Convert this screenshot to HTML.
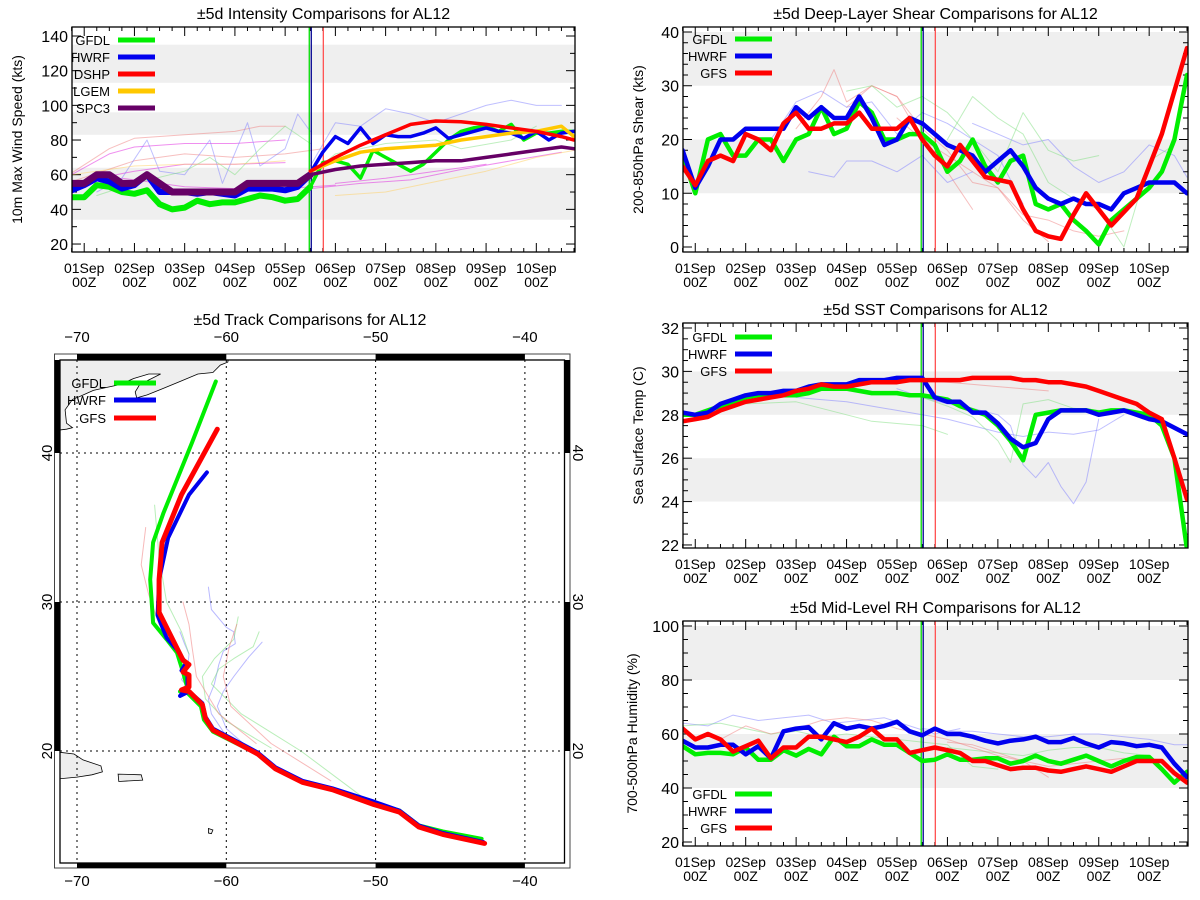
<!DOCTYPE html>
<html><head><meta charset="utf-8"><title>AL12 ±5d Comparisons</title>
<style>
html,body{margin:0;padding:0;background:#fff;}
svg{display:block;font-family:"Liberation Sans",sans-serif;}
</style></head>
<body>
<svg id="fig" width="1200" height="900" viewBox="0 0 1200 900" xmlns="http://www.w3.org/2000/svg">
<defs>
<clipPath id="clipI"><rect x="72" y="27" width="503" height="225"/></clipPath>
<clipPath id="clipS"><rect x="683" y="27" width="505" height="225"/></clipPath>
<clipPath id="clipT"><rect x="683" y="323" width="505" height="225"/></clipPath>
<clipPath id="clipR"><rect x="683" y="621" width="505" height="225"/></clipPath>
<clipPath id="clipM"><rect x="60" y="360" width="504.5" height="503"/></clipPath>
</defs>
<rect width="1200" height="900" fill="#fff"/>
</svg>
<script>
// ---------- DATA ----------
const dayLabels = ["01Sep","02Sep","03Sep","04Sep","05Sep","06Sep","07Sep","08Sep","09Sep","10Sep"];
const hourLabel = "00Z";
const initTimes = [4.48, 4.52, 4.76]; // green, blue, red verticals (days)

// Intensity (kt)
const intTicks = [20,40,60,80,100,120,140];
const intBands = [[34,64],[83,96],[113,135]];
const gfdlIntPast = [47,47,54,53,50,49,51,43,40,41,45,43,44,44,46,48,47,45,46,53];
const hwrfIntPast = [51,54,58,56,52,54,60,50,50,50,49,50,49,48,52,52,52,51,53,60];
const spc3IntPast = [55,55,60,60,55,55,60,55,50,50,50,50,50,50,55,55,55,55,55,60];
const gfdlIntFcst = [53,67,68,66,58,74,70,66,62,66,73,80,85,87,88,85,89,80,84,84,85,85];
const hwrfIntFcst = [61,73,82,78,87,78,83,82,82,84,87,81,83,85,87,85,84,81,85,80,84,85];
const fcst12Times = [4.5,5.0,5.5,6.0,6.5,7.0,7.5,8.0,8.5,9.0,9.5,9.75];
const dshpIntFcst = [62,70,77,83,89,91,90.5,89,87,85,82,80];
const lgemIntFcst = [62,68,73,75,76,77,80,82,84,85,88,82];
const spc3IntFcst = [60,63,65,66,67,68,68,70,72,74,76,75];
const intThin = [
 {c:"#e020e0",t:[-0.25,0.5,1,2,3,4],v:[60,72,76,78,78,80]},
 {c:"#e020e0",t:[-0.25,1,2,3,4],v:[55,62,66,66,67]},
 {c:"#e020e0",t:[0.75,2,3,4,5],v:[58,53,52,52,54]},
 {c:"#e020e0",t:[4.5,5.5,6.5,7.5,8.5,9.5],v:[52,55,57,63,68,73]},
 {c:"#e020e0",t:[5,6,7,8],v:[55,58,62,66]},
 {c:"#f08080",t:[-0.25,0.5,1,2,3,3.5,4],v:[61,75,81,83,85,88,88]},
 {c:"#f08080",t:[-0.25,1,2,3,4,4.75],v:[56,68,72,70,72,75]},
 {c:"#8080ff",t:[0.25,0.75,1.25,1.5,2,2.5,2.75,3.25,3.5,4,4.25,4.5],v:[50,58,80,62,60,80,55,90,65,75,95,85]},
 {c:"#8080ff",t:[4.5,5,5.5,6,6.5,7,7.5,8,8.5,9,9.5],v:[65,90,88,98,95,90,95,100,103,100,100]},
 {c:"#80e080",t:[0.25,1,2,2.5,3,3.5,4,4.5],v:[48,55,62,70,60,75,88,78]},
 {c:"#80e080",t:[4.5,5,6,7,7.5,8.5,9],v:[60,72,78,80,75,80,88]},
 {c:"#ffd060",t:[-0.25,1,2,3,4],v:[60,65,66,66,68]},
 {c:"#ffd060",t:[5,6,7,8,9,9.75],v:[48,50,56,62,70,74]}
];

// Shear (kt), 6-hourly from -0.25 to 9.75
const shrTicks = [0,10,20,30,40];
const shrBands = [[10,20],[30,40]];
const gfdlShear = [17,10,20,21,17,17,20,20,16,20,21,26,21,22,27,25,20,20,21,21,19,14,16,20,15,12,16,17,8,7,8,5,3,0.5,5,7,9,11,14,20,32];
const hwrfShear = [18,11,15,20,20,22,22,22,22,26,24,26,24,24,28,24,19,20,24,23,21,19,18,17,14,16,18,15,11,9,8,9,8,8,7,10,11,12,12,12,10];
const gfsShear  = [15,11.5,16,17,16,21,20,18,23,25,22,22,23,23,25,22,22,22,24,20,17,15,19,16,13,12.5,12,7,3,2,1.5,6,10,7,4,6.5,9,15,21,29,37];
const shrThin = [
 {c:"#f08080",t:[2,2.5,2.75,3,3.5,4,4.5,5,5.5],v:[22,28,33,27,30,28,20,14,7]},
 {c:"#f08080",t:[3,3.5,4,4.5,5,5.5,6,6.5,7],v:[26,30,28,22,18,12,11,5,1]},
 {c:"#f08080",t:[4,4.5,5,5.5,6,6.5,7,7.5,8,8.5],v:[24,20,17,14,11,6,5,3,2,3]},
 {c:"#8080ff",t:[1.5,2,2.5,3,3.5,4,4.5,5,5.5,6,6.5],v:[20,27,29,26,27,21,25,23,20,17,8]},
 {c:"#8080ff",t:[2.25,2.75,3,3.5,4,4.5,5,5.5],v:[14,13,16,16,14,17,12,14]},
 {c:"#8080ff",t:[5.5,6,6.5,7,7.5,8,8.5,9,9.5,9.75],v:[23,21,19,20,15,12,14,19,17,13]},
 {c:"#80e080",t:[3,3.5,4,4.5,5,5.5,6,6.5,7,7.5,8],v:[29,30,26,28,25,20,14,25,18,16,17]},
 {c:"#80e080",t:[5,5.5,6,6.5,7,7.5,8,8.5,9,9.5],v:[20,28,24,21,12,9,7,0,16,19]}
];

// SST (C)
const sstTicks = [22,24,26,28,30,32];
const sstBands = [[24,26],[28,30]];
const gfdlSst = [28.0,28.0,28.2,28.4,28.6,28.8,28.9,28.9,28.9,28.9,29.0,29.2,29.2,29.2,29.1,29.0,29.0,29.0,28.9,28.9,28.8,28.7,28.4,28.2,28.0,27.5,26.8,25.9,28.0,28.1,28.2,28.2,28.2,28.1,28.2,28.2,28.1,28.0,27.5,26.0,21.8];
const hwrfSst = [28.1,28.0,28.1,28.5,28.7,28.9,29.0,29.0,29.1,29.1,29.3,29.4,29.4,29.4,29.6,29.6,29.6,29.7,29.7,29.7,28.8,28.6,28.6,28.1,28.1,27.6,26.9,26.5,26.7,27.8,28.2,28.2,28.2,28.0,28.1,28.2,28.0,27.8,27.7,27.4,27.1];
const gfsSst  = [27.7,27.8,27.9,28.2,28.4,28.6,28.7,28.8,28.9,29.1,29.2,29.4,29.3,29.3,29.4,29.5,29.5,29.5,29.6,29.6,29.6,29.6,29.6,29.7,29.7,29.7,29.7,29.6,29.6,29.5,29.5,29.4,29.3,29.1,28.9,28.7,28.5,28.1,27.8,26.0,24.1];
const sstThin = [
 {c:"#8080ff",t:[2,2.5,3,3.5,4,4.5,5,5.5,6,6.5,7,7.5,8,8.5],v:[28.8,28.7,28.6,28.4,28.2,28.0,27.8,27.5,27.2,27.0,27.2,27.1,27.3,28.0]},
 {c:"#8080ff",t:[4,4.5,5,5.5,6,6.25,6.5,6.75,7,7.25,7.5,7.75,8],v:[29.2,28.8,28.5,28.3,28.0,27.5,25.7,25.1,25.8,24.7,23.9,24.9,27.8]},
 {c:"#80e080",t:[1,2,2.5,3,3.5,4,4.5,5],v:[28.5,28.6,28.3,28.0,27.7,27.6,27.5,27.1]},
 {c:"#80e080",t:[4.5,5,5.5,6,6.25,6.5,7,7.5,8],v:[28.8,28.4,27.9,26.8,25.8,28.5,28.7,28.3,28.2]},
 {c:"#f08080",t:[4.5,5,5.5,6,6.5,7],v:[29.6,29.5,29.4,29.3,29.2,29.1]}
];

// Mid-level RH (%)
const rhTicks = [20,40,60,80,100];
const rhBands = [[40,60],[80,100]];
const gfdlRh = [55.5,52.5,53,53,52.5,55,50.5,50.5,54,52,54.5,52.5,59,55.5,55.5,58,56,56,53,50,50.5,52.5,50.5,50.5,51,51,49,50,52,50,49,50.5,52,50,48,50,51.5,51.5,47,42,46];
const hwrfRh = [57.5,55,55,56,56,52.5,55.5,51,61,62,62.5,58,64,62,63,62,63,64.5,61,59.5,62,60,60,59,57.5,56.5,57.5,58,59,57,57,58.5,56.5,55,57,56.5,55.5,56,55,49,44];
const gfsRh  = [62,58,60,58,53.5,55.5,57.5,51,55,55,59,59,58,57,59,62,58,58,53,54,55,54,53,50,50,48.5,47,47.5,47.5,46.5,46,47,48,47,46,48,50,50,50,45.5,42];
const rhThin = [
 {c:"#8080ff",t:[-0.25,0.25,0.75,1.25,1.75,2.25,2.75,3.25,3.75,4.25,4.75,5.25],v:[64,63,67,65,66,67,64,65,66,63,60,62]},
 {c:"#8080ff",t:[4.5,5,5.5,6,6.5,7,7.5,8,8.5,9,9.5,10],v:[62,61,61,60,59,59,60,60,59,58,56,56]},
 {c:"#80e080",t:[-0.25,0.5,1,1.5,2,2.5,3,3.5,4,4.5,5,5.5,6],v:[63,64,62,60,61,59,60,59,58,57,56,48,47]},
 {c:"#80e080",t:[5,5.5,6,6.5,7,7.5,8,8.5,9],v:[55,54,53,52,54,55,55,53,52]},
 {c:"#f08080",t:[0.5,1,1.5,2,2.5,3,3.5,4,4.5,5,5.5,6,6.5,7],v:[58,63,60,62,65,66,65,62,60,58,55,52,50,44]},
 {c:"#f08080",t:[5,5.5,6,6.5,7,7.5,8,8.5,9],v:[57,56,53,50,48,49,50,51,50]}
];

// Track (lon, lat)
const gfsTrackLon  = [-42.7,-45.5,-47.1,-48.4,-50.1,-52.9,-54.9,-56.7,-57.9,-60.9,-61.4,-61.6,-62.5,-63.0,-62.5,-62.5,-62.9,-62.5,-62.9,-63.2,-64.5,-64.5,-64.3,-63.0,-60.6];
const gfsTrackLat  = [13.8,14.4,14.9,15.9,16.4,17.4,17.9,18.8,19.8,21.4,22.2,23.1,24.0,24.1,24.3,25.1,25.3,25.8,26.1,26.7,29.3,31.5,34.0,37.2,41.6];
const gfdlTrackLon = [-42.9,-45.5,-47.1,-48.4,-50.1,-52.9,-54.9,-56.7,-57.9,-60.9,-61.5,-61.7,-62.6,-63.1,-62.6,-62.9,-63.3,-64.0,-64.9,-65.1,-64.9,-64.2,-62.3,-60.7];
const gfdlTrackLat = [14.1,14.6,15.0,16.0,16.5,17.4,17.9,18.8,19.8,21.3,22.1,23.0,23.9,24.0,24.2,25.3,26.6,27.5,28.6,31.5,34.0,36.0,40.7,44.8];
const hwrfTrackLon = [-42.8,-45.5,-47.1,-48.4,-50.1,-52.9,-54.9,-56.7,-57.9,-60.9,-61.4,-61.6,-62.5,-63.1,-62.6,-62.6,-63.0,-62.7,-63.0,-63.3,-64.0,-64.6,-64.5,-63.9,-62.5,-61.3];
const hwrfTrackLat = [13.9,14.5,15.0,16.0,16.6,17.5,18.0,18.9,19.9,21.5,22.3,23.2,24.0,23.7,24.3,25.1,25.4,25.9,26.3,26.8,27.6,29.1,31.5,34.3,37.2,38.7];
const trackThin = [
 {c:"#8080ff",lon:[-61.2,-61.0,-60.0,-59.5,-59.4,-60.2,-60.5,-60.8,-61.2,-61.0,-60.0],lat:[31.0,29.5,28.3,28.0,27.2,26.7,25.8,24.5,23.5,22.5,21.0]},
 {c:"#8080ff",lon:[-57.6,-58.5,-59.5,-60.2,-60.6,-60.0,-58.5],lat:[27.3,26.3,25.0,24.0,23.0,21.5,20.2]},
 {c:"#8080ff",lon:[-63.1,-62.8,-62.5,-62.6,-63.0,-62.6],lat:[28.0,27.2,26.5,25.5,24.8,24.3]},
 {c:"#80e080",lon:[-57.8,-58.2,-59.5,-60.5,-61.0,-59.0,-55.0,-51.0],lat:[28.0,27.0,26.2,25.5,24.5,22.5,20.0,17.0]},
 {c:"#80e080",lon:[-64.8,-64.5,-64.0,-63.0,-62.5],lat:[36.5,33.0,30.0,28.0,26.5]},
 {c:"#80e080",lon:[-59.2,-59.5,-60.8,-61.6,-61.4,-60.0,-57.0],lat:[29.0,27.5,26.2,25.0,23.5,22.0,20.2]},
 {c:"#f08080",lon:[-59.3,-59.8,-60.2,-59.7,-57.0,-53.0],lat:[28.5,27.0,25.0,23.0,20.5,18.0]},
 {c:"#f08080",lon:[-65.4,-65.7,-65.2,-64.5,-63.5],lat:[35.0,32.5,30.5,28.5,27.0]},
 {c:"#f08080",lon:[-62.9,-62.5,-62.3,-62.0,-60.5,-58.0],lat:[30.0,28.5,27.0,25.0,22.5,20.5]}
];
const lonTicks = [-70,-60,-50,-40];
const latTicks = [20,30,40];

// ---------- DRAWING ----------
const NS = "http://www.w3.org/2000/svg";
const svg = document.getElementById("fig");
function mk(tag, attrs, parent){
  const e = document.createElementNS(NS, tag);
  for (const k in attrs) e.setAttribute(k, attrs[k]);
  (parent||svg).appendChild(e);
  return e;
}
const X0 = -0.243, X1 = 9.77;
function sx(b,d){ return b.l + (d - X0)/(X1 - X0)*(b.r - b.l); }
function sy(b,v){ return b.t + (b.ymax - v)/(b.ymax - b.ymin)*(b.b - b.t); }
function steps(start, n){ const a=[]; for(let i=0;i<n;i++) a.push(start + i*0.25); return a; }

function line(g, b, ts, vs, color, w, op, name){
  let d = "";
  for (let i=0;i<ts.length;i++) d += (i?"L":"M") + sx(b,ts[i]).toFixed(1) + "," + sy(b,vs[i]).toFixed(1);
  const p = mk("path", {d:d, fill:"none", stroke:color, "stroke-width":w, "stroke-linejoin":"round", "stroke-linecap":"round", opacity:op}, g);
  
  
  return p;
}

function panel(b, title, ytitle, ticks, bands, minorStep, clipId, pname){
  const g = mk("g", {});
  
  
  bands.forEach(bd=>{
    const r = mk("rect", {x:b.l, y:sy(b,bd[1]), width:b.r-b.l, height:sy(b,bd[0])-sy(b,bd[1]), fill:"#efefef"}, g);
    
    
  });
  const tt = mk("text", {x:(b.l+b.r)/2, y:b.t-8, "text-anchor":"middle", "font-size":"16"}, g);
  tt.textContent = title;
  
  
  const yt = mk("text", {x:0, y:0, "text-anchor":"middle", "font-size":"14", transform:"translate("+(b.l-b.yto)+","+((b.t+b.b)/2)+") rotate(-90)"}, g);
  yt.textContent = ytitle;
  
  
  for (let v=ticks[0]; v<=ticks[ticks.length-1]+1e-6; v+=minorStep){
    const y = sy(b,v);
    const major = ticks.some(t=>Math.abs(t-v)<1e-6);
    const L = major?9:5;
    mk("line",{x1:b.l,x2:b.l+L,y1:y,y2:y,stroke:"#000","stroke-width":1},g);
    mk("line",{x1:b.r,x2:b.r-L,y1:y,y2:y,stroke:"#000","stroke-width":1},g);
  }
  ticks.forEach(v=>{
    const t = mk("text",{x:b.l-4,y:sy(b,v)+6,"text-anchor":"end","font-size":"16"},g);
    t.textContent = v;
    
    
  });
  for (let d=-0.25; d<=9.76; d+=0.25){
    const x = sx(b,d);
    const major = Math.abs(d-Math.round(d))<1e-6;
    const L = major?9:4;
    mk("line",{x1:x,x2:x,y1:b.b,y2:b.b-L,stroke:"#000","stroke-width":1},g);
    mk("line",{x1:x,x2:x,y1:b.t,y2:b.t+L,stroke:"#000","stroke-width":1},g);
  }
  dayLabels.forEach((lab,i)=>{
    const x = sx(b,i);
    const t1 = mk("text",{x:x,y:b.b+21,"text-anchor":"middle","font-size":"14"},g);
    t1.textContent = lab;
    
    
    const t2 = mk("text",{x:x,y:b.b+35,"text-anchor":"middle","font-size":"14"},g);
    t2.textContent = hourLabel;
    
    
  });
  const cg = mk("g",{"clip-path":"url(#"+clipId+")"},g);
  
  
  return {g:g, cg:cg};
}
function verticals(b, cg){
  const cols = ["#00dd00","#000090","#ff5050"];
  initTimes.forEach((t,i)=>{
    const l = mk("line",{x1:sx(b,t),x2:sx(b,t),y1:b.t,y2:b.b,stroke:cols[i],"stroke-width":1.3},cg);
    
    
  });
}
function frame(b, g){
  const r = mk("rect",{x:b.l,y:b.t,width:b.r-b.l,height:b.b-b.t,fill:"none",stroke:"#000","stroke-width":1.3},g);
  
  
}
function legend(g, x, y0, dy, items){
  items.forEach((it,i)=>{
    const y = y0 + i*dy;
    const t = mk("text",{x:x+32,y:y+5,"text-anchor":"end","font-size":"13"},g);
    t.textContent = it[0];
    
    
    const l = mk("line",{x1:x+40,x2:x+77,y1:y,y2:y,stroke:it[1],"stroke-width":5},g);
    
    
  });
}
const G="#00ee00", B="#0000ee", R="#ff0000", Y="#ffc800", P="#660066";

// Intensity
const bI = {l:72,r:575,t:27,b:252,ymin:15.4,ymax:145.2,yto:50};
let p = panel(bI, "±5d Intensity Comparisons for AL12", "10m Max Wind Speed (kts)", intTicks, intBands, 10, "clipI", "intensity-panel");
intThin.forEach(s=>line(p.cg,bI,s.t,s.v,s.c,1,0.5,"intensity-prior-forecast"));
verticals(bI,p.cg);
line(p.cg,bI,steps(-0.25,gfdlIntPast.length),gfdlIntPast,G,6,1,"gfdl-intensity-history");
line(p.cg,bI,steps(-0.25,hwrfIntPast.length),hwrfIntPast,B,6,1,"hwrf-intensity-history");
line(p.cg,bI,steps(-0.25,spc3IntPast.length),spc3IntPast,P,7,1,"spc3-intensity-history");
line(p.cg,bI,steps(4.5,gfdlIntFcst.length),gfdlIntFcst,G,3.5,1,"gfdl-intensity-forecast");
line(p.cg,bI,steps(4.5,hwrfIntFcst.length),hwrfIntFcst,B,3.5,1,"hwrf-intensity-forecast");
line(p.cg,bI,fcst12Times,lgemIntFcst,Y,3.5,1,"lgem-intensity-forecast");
line(p.cg,bI,fcst12Times,spc3IntFcst,P,3.5,1,"spc3-intensity-forecast");
line(p.cg,bI,fcst12Times,dshpIntFcst,R,3.5,1,"dshp-intensity-forecast");
frame(bI,p.g);
legend(p.g,78,40,17,[["GFDL",G],["HWRF",B],["DSHP",R],["LGEM",Y],["SPC3",P]]);

// Shear
const bS = {l:683,r:1188,t:27,b:252,ymin:-0.93,ymax:40.93,yto:40};
p = panel(bS, "±5d Deep-Layer Shear Comparisons for AL12", "200-850hPa Shear (kts)", shrTicks, shrBands, 2, "clipS", "shear-panel");
shrThin.forEach(s=>line(p.cg,bS,s.t,s.v,s.c,1,0.5,"shear-prior-forecast"));
verticals(bS,p.cg);
line(p.cg,bS,steps(-0.25,gfdlShear.length),gfdlShear,G,4.5,1,"gfdl-shear");
line(p.cg,bS,steps(-0.25,hwrfShear.length),hwrfShear,B,4.5,1,"hwrf-shear");
line(p.cg,bS,steps(-0.25,gfsShear.length),gfsShear,R,4.5,1,"gfs-shear");
frame(bS,p.g);
legend(p.g,695,39,17,[["GFDL",G],["HWRF",B],["GFS",R]]);

// SST
const bT = {l:683,r:1188,t:323,b:548,ymin:21.86,ymax:32.23,yto:40};
p = panel(bT, "±5d SST Comparisons for AL12", "Sea Surface Temp (C)", sstTicks, sstBands, 0.5, "clipT", "sst-panel");
sstThin.forEach(s=>line(p.cg,bT,s.t,s.v,s.c,1,0.5,"sst-prior-forecast"));
verticals(bT,p.cg);
line(p.cg,bT,steps(-0.25,gfdlSst.length),gfdlSst,G,4.5,1,"gfdl-sst");
line(p.cg,bT,steps(-0.25,hwrfSst.length),hwrfSst,B,4.5,1,"hwrf-sst");
line(p.cg,bT,steps(-0.25,gfsSst.length),gfsSst,R,4.5,1,"gfs-sst");
frame(bT,p.g);
legend(p.g,695,337,17,[["GFDL",G],["HWRF",B],["GFS",R]]);

// RH
const bR = {l:683,r:1188,t:621,b:846,ymin:18.52,ymax:101.85,yto:46};
p = panel(bR, "±5d Mid-Level RH Comparisons for AL12", "700-500hPa Humidity (%)", rhTicks, rhBands, 5, "clipR", "rh-panel");
rhThin.forEach(s=>line(p.cg,bR,s.t,s.v,s.c,1,0.5,"rh-prior-forecast"));
verticals(bR,p.cg);
line(p.cg,bR,steps(-0.25,gfdlRh.length),gfdlRh,G,4.5,1,"gfdl-rh");
line(p.cg,bR,steps(-0.25,hwrfRh.length),hwrfRh,B,4.5,1,"hwrf-rh");
line(p.cg,bR,steps(-0.25,gfsRh.length),gfsRh,R,4.5,1,"gfs-rh");
frame(bR,p.g);
legend(p.g,695,794,17,[["GFDL",G],["HWRF",B],["GFS",R]]);

// ---------- TRACK MAP ----------
const M = {l:60,r:564.5,t:360,b:863};
function mx(lon){ return 77 + (lon+70)*14.93; }
function my(lat){ return 602 - (lat-30)*14.9; }
const mg = mk("g",{});


const mt = mk("text",{x:310,y:325,"text-anchor":"middle","font-size":"16"},mg);
mt.textContent = "±5d Track Comparisons for AL12";


const mc = mk("g",{"clip-path":"url(#clipM)"},mg);


function poly(pts,name){
  const e = mk("polygon",{points:pts.map(q=>mx(q[0]).toFixed(1)+","+my(q[1]).toFixed(1)).join(" "),fill:"#eeeeee",stroke:"#000","stroke-width":0.8},mc);
  
  
}
poly([[-71.5,46.6],[-59.8,46.6],[-59.9,46.1],[-60.4,45.9],[-60.9,45.4],[-61.9,45.3],[-63.1,44.8],[-64.3,44.3],[-65.3,43.9],[-66.0,43.7],[-66.1,44.1],[-65.8,44.6],[-65.0,45.0],[-64.4,45.3],[-65.2,45.3],[-66.2,45.0],[-67.1,44.6],[-68.0,44.4],[-68.9,44.2],[-69.8,43.8],[-70.3,43.6],[-70.8,42.9],[-70.7,42.0],[-70.3,41.7],[-70.7,41.6],[-71.5,41.5]],"land-new-england-maritimes");
poly([[-71.5,19.95],[-70.2,19.8],[-69.6,19.4],[-68.4,19.0],[-68.3,18.6],[-69.0,18.4],[-70.0,18.25],[-71.5,18.1]],"land-hispaniola");
poly([[-67.25,18.45],[-65.7,18.4],[-65.6,18.05],[-67.2,17.95]],"land-puerto-rico");
poly([[-61.2,14.8],[-60.9,14.7],[-61.0,14.45],[-61.2,14.5]],"land-martinique");
lonTicks.forEach(lo=>{ const l=mk("line",{x1:mx(lo),x2:mx(lo),y1:M.t,y2:M.b,stroke:"#000","stroke-width":1,"stroke-dasharray":"2,4"},mc);   });
latTicks.forEach(la=>{ const l=mk("line",{x1:M.l,x2:M.r,y1:my(la),y2:my(la),stroke:"#000","stroke-width":1,"stroke-dasharray":"2,4"},mc);   });
function track(lons,lats,color,w,op,name){
  let d="";
  for(let i=0;i<lons.length;i++) d += (i?"L":"M")+mx(lons[i]).toFixed(1)+","+my(lats[i]).toFixed(1);
  const e = mk("path",{d:d,fill:"none",stroke:color,"stroke-width":w,"stroke-linejoin":"round","stroke-linecap":"round",opacity:op},mc);
  
  
}
trackThin.forEach(s=>track(s.lon,s.lat,s.c,1,0.55,"prior-track"));
track(gfdlTrackLon,gfdlTrackLat,G,4,1,"gfdl-track");
track(hwrfTrackLon,hwrfTrackLat,B,4,1,"hwrf-track");
track(gfsTrackLon,gfsTrackLat,R,5,1,"gfs-track");
const of = mk("rect",{x:54.5,y:354,width:515.5,height:514,fill:"none",stroke:"#444","stroke-width":1},mg);
 
function bar(x,y,w,h){ const r=mk("rect",{x:x,y:y,width:w,height:h,fill:"#000"},mg);   }
bar(mx(-70),354,mx(-60)-mx(-70),6); bar(mx(-50),354,mx(-40)-mx(-50),6);
bar(mx(-70),863,mx(-60)-mx(-70),5); bar(mx(-50),863,mx(-40)-mx(-50),5);
bar(54.5,360,5.5,my(40)-360); bar(54.5,my(30),5.5,my(20)-my(30));
bar(564.5,360,5.5,my(40)-360); bar(564.5,my(30),5.5,my(20)-my(30));
const inf = mk("rect",{x:M.l,y:M.t,width:M.r-M.l,height:M.b-M.t,fill:"none",stroke:"#000","stroke-width":1.3},mg);
 
lonTicks.forEach(lo=>{
  [342,886].forEach(y=>{
    const t=mk("text",{x:mx(lo),y:y,"text-anchor":"middle","font-size":"15"},mg);
    t.textContent = (lo<0?"\u2212"+(-lo):lo);
     
  });
});
latTicks.forEach(la=>{
  const t1=mk("text",{x:0,y:0,"text-anchor":"middle","font-size":"15",transform:"translate(52,"+my(la)+") rotate(-90)"},mg);
  t1.textContent = la;
   
  const t2=mk("text",{x:0,y:0,"text-anchor":"middle","font-size":"15",transform:"translate(573,"+my(la)+") rotate(90)"},mg);
  t2.textContent = la;
   
});
[["GFDL",G,383],["HWRF",B,400],["GFS",R,418]].forEach(it=>{
  const t=mk("text",{x:106,y:it[2]+5,"text-anchor":"end","font-size":"13"},mg);
  t.textContent = it[0];
   
  const l=mk("line",{x1:114,x2:156,y1:it[2],y2:it[2],stroke:it[1],"stroke-width":5},mg);
   
});
</script>
</body></html>
